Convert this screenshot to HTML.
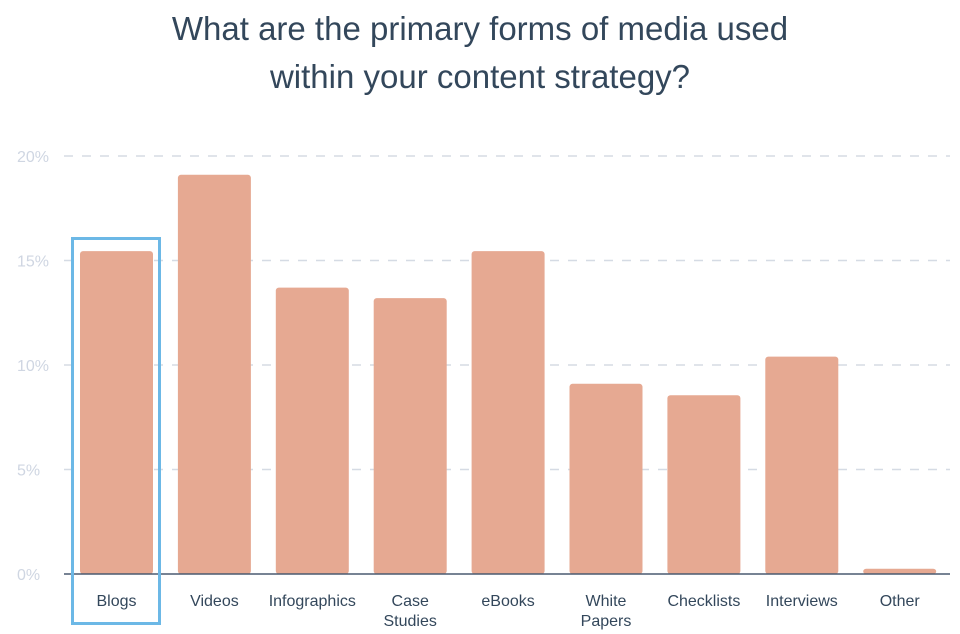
<!DOCTYPE html>
<html><head><meta charset="utf-8"><style>
body{margin:0;background:#fff;}
svg{display:block;font-family:"Liberation Sans",sans-serif;}
</style></head><body>
<svg id="chart" width="960" height="634">
<text x="480" y="40" text-anchor="middle" font-size="33" fill="#33475b">What are the primary forms of media used</text>
<text x="480" y="88" text-anchor="middle" font-size="33" fill="#33475b">within your content strategy?</text>
<g id="grid"></g><g id="bars"></g><g id="xl"></g>
<line x1="64" x2="950" y1="574" y2="574" stroke="#4a5a70" stroke-width="1.5"/>
<rect x="72.5" y="238.5" width="87" height="385" fill="none" stroke="#6cb8e6" stroke-width="3"/>
</svg>
<script>
const categories=["Blogs","Videos","Infographics","Case Studies","eBooks","White Papers","Checklists","Interviews","Other"];
const values=[15.45,19.1,13.7,13.2,15.45,9.1,8.55,10.4,0.25];
const ticks=[0,5,10,15,20];
const tickLabels=["0%","5%","10%","15%","20%"];
const NS="http://www.w3.org/2000/svg";
const y=v=>574-v*20.9;
const x=i=>80+i*97.9;
const bw=73;
function mk(t,a,p){const e=document.createElementNS(NS,t);for(const k in a)e.setAttribute(k,a[k]);p.appendChild(e);return e;}
const grid=document.getElementById('grid'),bars=document.getElementById('bars'),xl=document.getElementById('xl');
ticks.forEach((t,i)=>{
 if(t>0){const l=mk('line',{x1:64,x2:950,y1:y(t),y2:y(t),stroke:'#d5dbe4','stroke-width':1.5,'stroke-dasharray':'9 9'},grid);
 
 }
 const tx=mk('text',{x:17,y:y(t)+6,'font-size':16,fill:'#cfd6e2'},grid);tx.textContent=tickLabels[i];
 
 
});
categories.forEach((c,i)=>{
 const r=mk('rect',{x:x(i),y:y(values[i]),width:bw,height:574-y(values[i]),rx:3,fill:'#e6a992'},bars);
 
 
 const words=c.split(' ');
 const t=mk('text',{x:x(i)+bw/2,'text-anchor':'middle','font-size':16,fill:'#33475b'},xl);
 
 
 if(c==="Case Studies"||c==="White Papers"){
  words.forEach((w,j)=>{const s=mk('tspan',{x:x(i)+bw/2,y:606+j*20},t);s.textContent=w;});
 } else {t.setAttribute('y',606);t.textContent=c;}
});
</script>
</body></html>
